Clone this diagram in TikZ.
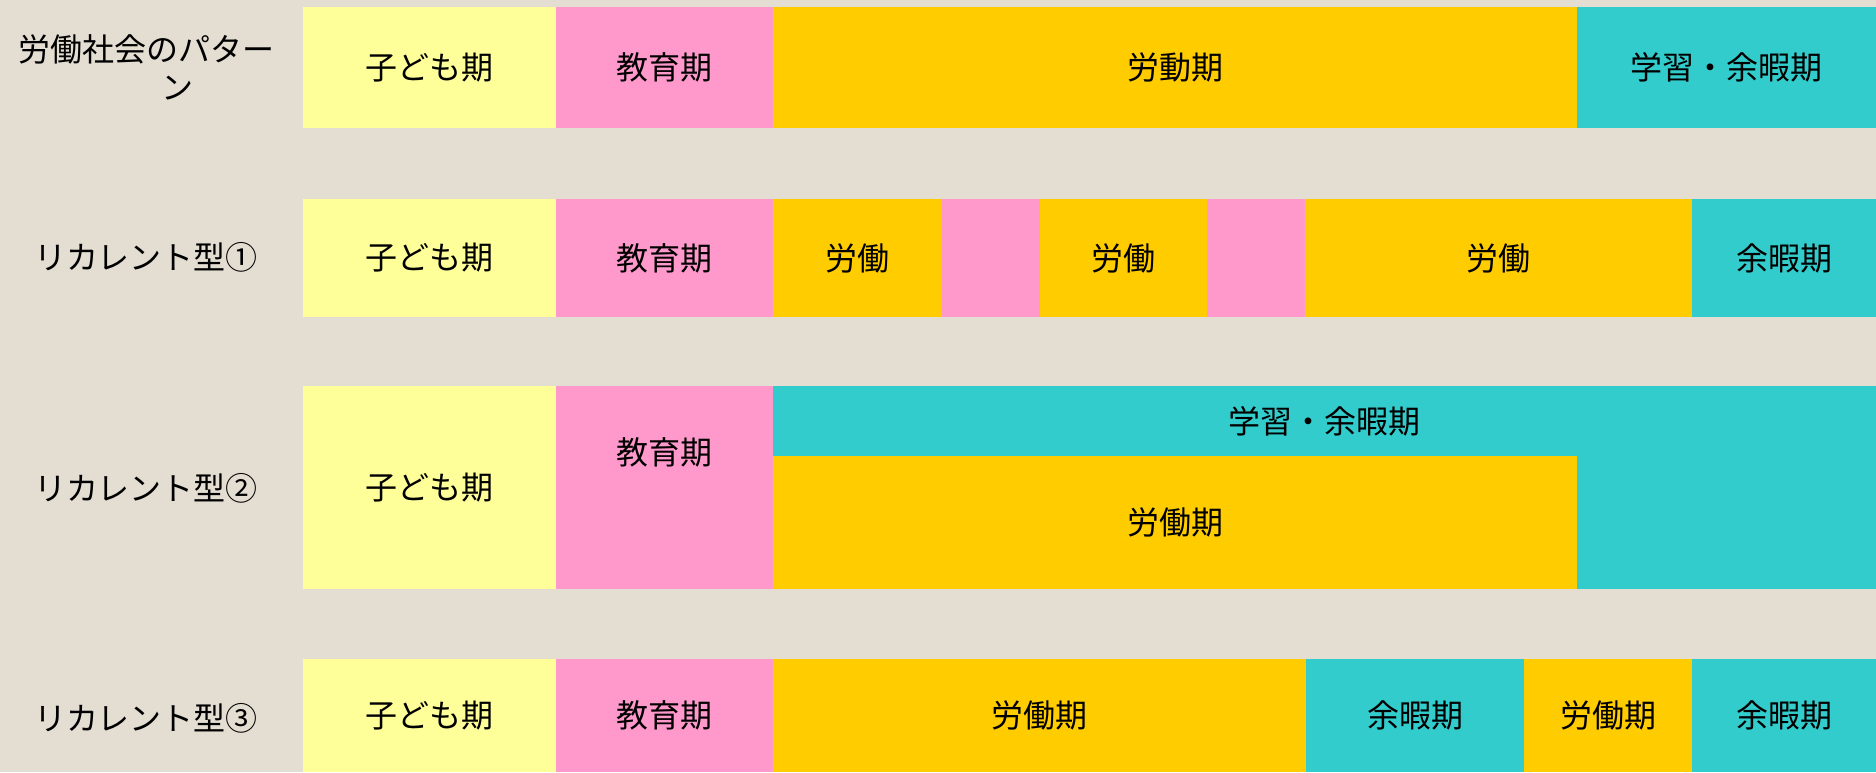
\documentclass[tikz,border=0pt]{standalone}
\usepackage{fontspec}
\newfontfamily\jpfont{Noto Sans CJK JP}
\definecolor{bgc}{HTML}{E3DDD2}
\definecolor{yel}{HTML}{FFFF99}
\definecolor{pnk}{HTML}{FF99CC}
\definecolor{org}{HTML}{FFCC00}
\definecolor{tea}{HTML}{33CCCC}
\tikzset{
  cell/.style={draw=none, inner sep=0pt, outer sep=0pt, font=\jpfont\fontsize{32}{38}\selectfont, text=black},
  lbl/.style={inner sep=0pt, font=\jpfont\fontsize{32}{38}\selectfont, text=black}
}
\begin{document}
\begin{tikzpicture}[x=1pt,y=1pt]
\fill[bgc] (0,0) rectangle (1876,772);
\useasboundingbox (0,0) rectangle (1876,772);
% row 1
\node[lbl] (l1a) at (146,723) {労働社会のパター};
\node[lbl] (l1b) at (177,684) {ン};
\node[cell, fill=yel, minimum width=253pt, minimum height=121pt] (r1a) at (429.5,704.5) {子ども期};
\node[cell, fill=pnk, minimum width=217pt, minimum height=121pt] (r1b) at (664.5,704.5) {教育期};
\node[cell, fill=org, minimum width=804pt, minimum height=121pt] (r1c) at (1175,704.5) {労動期};
\node[cell, fill=tea, minimum width=299pt, minimum height=121pt] (r1d) at (1726.5,704.5) {学習・余暇期};
% row 2
\node[lbl] (l2) at (146,515) {リカレント型①};
\node[cell, fill=yel, minimum width=253pt, minimum height=118pt] (r2a) at (429.5,514) {子ども期};
\node[cell, fill=pnk, minimum width=217pt, minimum height=118pt] (r2b) at (664.5,514) {教育期};
\node[cell, fill=org, minimum width=169pt, minimum height=118pt] (r2c) at (857.5,514) {労働};
\node[cell, fill=pnk, minimum width=98pt, minimum height=118pt] (r2d) at (991,514) {};
\node[cell, fill=org, minimum width=167pt, minimum height=118pt] (r2e) at (1123.5,514) {労働};
\node[cell, fill=pnk, minimum width=98pt, minimum height=118pt] (r2f) at (1256,514) {};
\node[cell, fill=org, minimum width=387pt, minimum height=118pt] (r2g) at (1498.5,514) {労働};
\node[cell, fill=tea, minimum width=184pt, minimum height=118pt] (r2h) at (1784,514) {余暇期};
% row 3
\node[lbl] (l3) at (146,284) {リカレント型②};
\node[cell, fill=yel, minimum width=253pt, minimum height=203pt] (r3a) at (429.5,284.5) {子ども期};
\node[cell, fill=pnk, minimum width=217pt, minimum height=203pt] (r3b) at (664.5,284.5) {};
\node[lbl] (r3bt) at (664.5,320) {教育期};
\node[cell, fill=tea, minimum width=1103pt, minimum height=203pt] (r3c) at (1324.5,284.5) {};
\node[lbl] (r3ct) at (1324,351) {学習・余暇期};
\node[cell, fill=org, minimum width=804pt, minimum height=133pt] (r3d) at (1175,249.5) {労働期};
% row 4
\node[lbl] (l4) at (146,54) {リカレント型③};
\node[cell, fill=yel, minimum width=253pt, minimum height=113pt] (r4a) at (429.5,56.5) {子ども期};
\node[cell, fill=pnk, minimum width=217pt, minimum height=113pt] (r4b) at (664.5,56.5) {教育期};
\node[cell, fill=org, minimum width=533pt, minimum height=113pt] (r4c) at (1039.5,56.5) {労働期};
\node[cell, fill=tea, minimum width=218pt, minimum height=113pt] (r4d) at (1415,56.5) {余暇期};
\node[cell, fill=org, minimum width=168pt, minimum height=113pt] (r4e) at (1608,56.5) {労働期};
\node[cell, fill=tea, minimum width=184pt, minimum height=113pt] (r4f) at (1784,56.5) {余暇期};
\end{tikzpicture}
\end{document}
